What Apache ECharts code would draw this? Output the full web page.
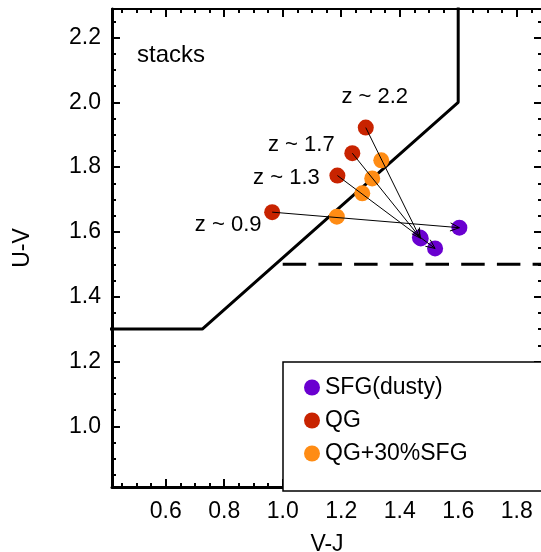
<!DOCTYPE html>
<html><head><meta charset="utf-8">
<script src="https://cdn.jsdelivr.net/npm/echarts@6/dist/echarts.min.js"></script>
<style>html,body{margin:0;padding:0;background:#fff}#c{width:541px;height:552px}</style>
</head><body><div id="c"></div>
<script>
// ---- data ----
const xMajor = [0.6, 0.8, 1.0, 1.2, 1.4, 1.6, 1.8];
const xMinor = [0.45, 0.5, 0.55, 0.65, 0.7, 0.75, 0.85, 0.9, 0.95, 1.05, 1.1, 1.15, 1.25, 1.3, 1.35, 1.45, 1.5, 1.55, 1.65, 1.7, 1.75, 1.85];
const yMajor = [1.0, 1.2, 1.4, 1.6, 1.8, 2.0, 2.2];
const yMinor = [0.85, 0.9, 0.95, 1.05, 1.1, 1.15, 1.25, 1.3, 1.35, 1.45, 1.5, 1.55, 1.65, 1.7, 1.75, 1.85, 1.9, 1.95, 2.05, 2.1, 2.15, 2.25];
const zLabels = ['z ~ 0.9', 'z ~ 1.3', 'z ~ 1.7', 'z ~ 2.2'];
const qgVJ  = [0.964, 1.187, 1.238, 1.284];
const qgUV  = [1.661, 1.774, 1.843, 1.922];
const mixVJ = [1.185, 1.272, 1.306, 1.337];
const mixUV = [1.647, 1.719, 1.765, 1.821];
const sfgVJ = [1.604, 1.521, 1.472, 1.469];
const sfgUV = [1.613, 1.549, 1.580, 1.583];
const boxVJ = [0.40, 0.725, 1.60, 1.60];
const boxUV = [1.30, 1.30, 2.00, 2.40];
const cutVJ = [1.00, 1.95];
const cutUV = [1.50, 1.50];
const seriesNames = ['SFG(dusty)', 'QG', 'QG+30%SFG'];

// ---- styles ----
const FONT = "'Liberation Sans', Arial, sans-serif";
const FS = 23;
const colors = ['#6A00D0', '#C82300', '#FF8C14'];
const labelOffsets = [[-44, 13], [-51, 2], [-51, -8], [9, -31]];
const X0 = 0.4164, X1 = 1.8865, Y0 = 0.8127, Y1 = 2.288;

const zip = (a, b) => a.map((v, i) => [v, b[i]]);
const black = '#000';

function xAx(grid, pos, ticks, len, opts) {
  return Object.assign({
    type: 'value', gridIndex: grid, position: pos, min: X0, max: X1,
    splitLine: {show: false},
    axisLine: {show: false},
    axisTick: {show: true, inside: true, length: len, customValues: ticks, lineStyle: {color: black, width: 2}},
    axisLabel: {show: false}
  }, opts || {});
}
function yAx(grid, pos, ticks, len, opts) {
  return Object.assign({
    type: 'value', gridIndex: grid, position: pos, min: Y0, max: Y1,
    splitLine: {show: false},
    axisLine: {show: false},
    axisTick: {show: true, inside: true, length: len, customValues: ticks, lineStyle: {color: black, width: 2}},
    axisLabel: {show: false}
  }, opts || {});
}

const gridBox = {left: 112, top: 9, width: 430, height: 478, containLabel: false, outerBoundsMode: 'none'};

const option = {
  animation: false,
  backgroundColor: '#fff',
  title: {text: 'stacks', left: 137, top: 43, padding: 0,
    textStyle: {fontSize: 24, fontWeight: 'normal', color: black, fontFamily: FONT}},
  grid: [Object.assign({}, gridBox), Object.assign({}, gridBox)],
  legend: {
    orient: 'vertical', left: 283, top: 362, icon: 'circle',
    itemWidth: 16, itemHeight: 16, itemGap: 10,
    padding: [14, 110, 26, 21],
    borderColor: black, borderWidth: 1.5, backgroundColor: '#fff',
    textStyle: {fontSize: FS, color: black, fontFamily: FONT, lineHeight: 22},
    data: seriesNames
  },
  xAxis: [
    xAx(0, 'bottom', xMajor, 8, {
      axisLine: {show: true, lineStyle: {color: black, width: 3}},
      axisLabel: {show: true, customValues: xMajor, formatter: v => v.toFixed(1),
        color: black, fontSize: FS, fontFamily: FONT, margin: 13},
      name: 'V-J', nameLocation: 'middle', nameGap: 46,
      nameTextStyle: {fontSize: FS, color: black, fontFamily: FONT}
    }),
    xAx(0, 'top', xMajor, 8, {axisLine: {show: true, lineStyle: {color: black, width: 2}}}),
    xAx(1, 'bottom', xMinor, 4),
    xAx(1, 'top', xMinor, 4)
  ],
  yAxis: [
    yAx(0, 'left', yMajor, 8, {
      axisLine: {show: true, lineStyle: {color: black, width: 3}},
      axisLabel: {show: true, customValues: yMajor, formatter: v => v.toFixed(1),
        color: black, fontSize: FS, fontFamily: FONT, margin: 11},
      name: 'U-V', nameLocation: 'middle', nameGap: 78,
      nameTextStyle: {fontSize: FS, color: black, fontFamily: FONT}
    }),
    yAx(0, 'right', yMajor, 8, {axisLine: {show: true, lineStyle: {color: black, width: 2}}}),
    yAx(1, 'left', yMinor, 4),
    yAx(1, 'right', yMinor, 4)
  ],
  series: [
    {type: 'line', xAxisIndex: 0, yAxisIndex: 0, data: zip(boxVJ, boxUV), symbol: 'none',
      clip: true, silent: true, lineStyle: {color: black, width: 3}, z: 1},
    {type: 'line', xAxisIndex: 0, yAxisIndex: 0, data: zip(cutVJ, cutUV), symbol: 'none',
      clip: true, silent: true, lineStyle: {color: black, width: 3, type: [23.5, 12.2]}, z: 1},
    {name: seriesNames[0], type: 'scatter', xAxisIndex: 0, yAxisIndex: 0, symbolSize: 16,
      itemStyle: {color: colors[0], opacity: 1}, data: zip(sfgVJ, sfgUV), z: 2},
    {name: seriesNames[1], type: 'scatter', xAxisIndex: 0, yAxisIndex: 0, symbolSize: 16,
      itemStyle: {color: colors[1], opacity: 1},
      data: qgVJ.map((x, i) => ({
        value: [x, qgUV[i]],
        label: {show: true, position: 'inside', offset: labelOffsets[i], formatter: zLabels[i],
          color: black, fontSize: 22, fontFamily: FONT}
      })), z: 2},
    {name: seriesNames[2], type: 'scatter', xAxisIndex: 0, yAxisIndex: 0, symbolSize: 16,
      itemStyle: {color: colors[2], opacity: 1}, data: zip(mixVJ, mixUV), z: 2},
    {type: 'custom', xAxisIndex: 0, yAxisIndex: 0, silent: true, z: 3,
      data: qgVJ.map((x, i) => [x, qgUV[i], sfgVJ[i], sfgUV[i]]),
      encode: {x: [0, 2], y: [1, 3]},
      renderItem: (params, api) => {
        const p0 = api.coord([api.value(0), api.value(1)]);
        const p1 = api.coord([api.value(2), api.value(3)]);
        const a = Math.atan2(p1[1] - p0[1], p1[0] - p0[0]);
        const L = 10, w = 0.42;
        const h1 = [p1[0] - L * Math.cos(a - w), p1[1] - L * Math.sin(a - w)];
        const h2 = [p1[0] - L * Math.cos(a + w), p1[1] - L * Math.sin(a + w)];
        return {type: 'group', children: [
          {type: 'line', shape: {x1: p0[0], y1: p0[1], x2: p1[0], y2: p1[1]},
            style: {stroke: black, lineWidth: 1}},
          {type: 'polyline', shape: {points: [h1, p1, h2]},
            style: {stroke: black, lineWidth: 1, fill: null}}
        ]};
      }}
  ]
};
const chart = echarts.init(document.getElementById('c'), null, {renderer: 'canvas'});
chart.setOption(option);
</script>
</body></html>
